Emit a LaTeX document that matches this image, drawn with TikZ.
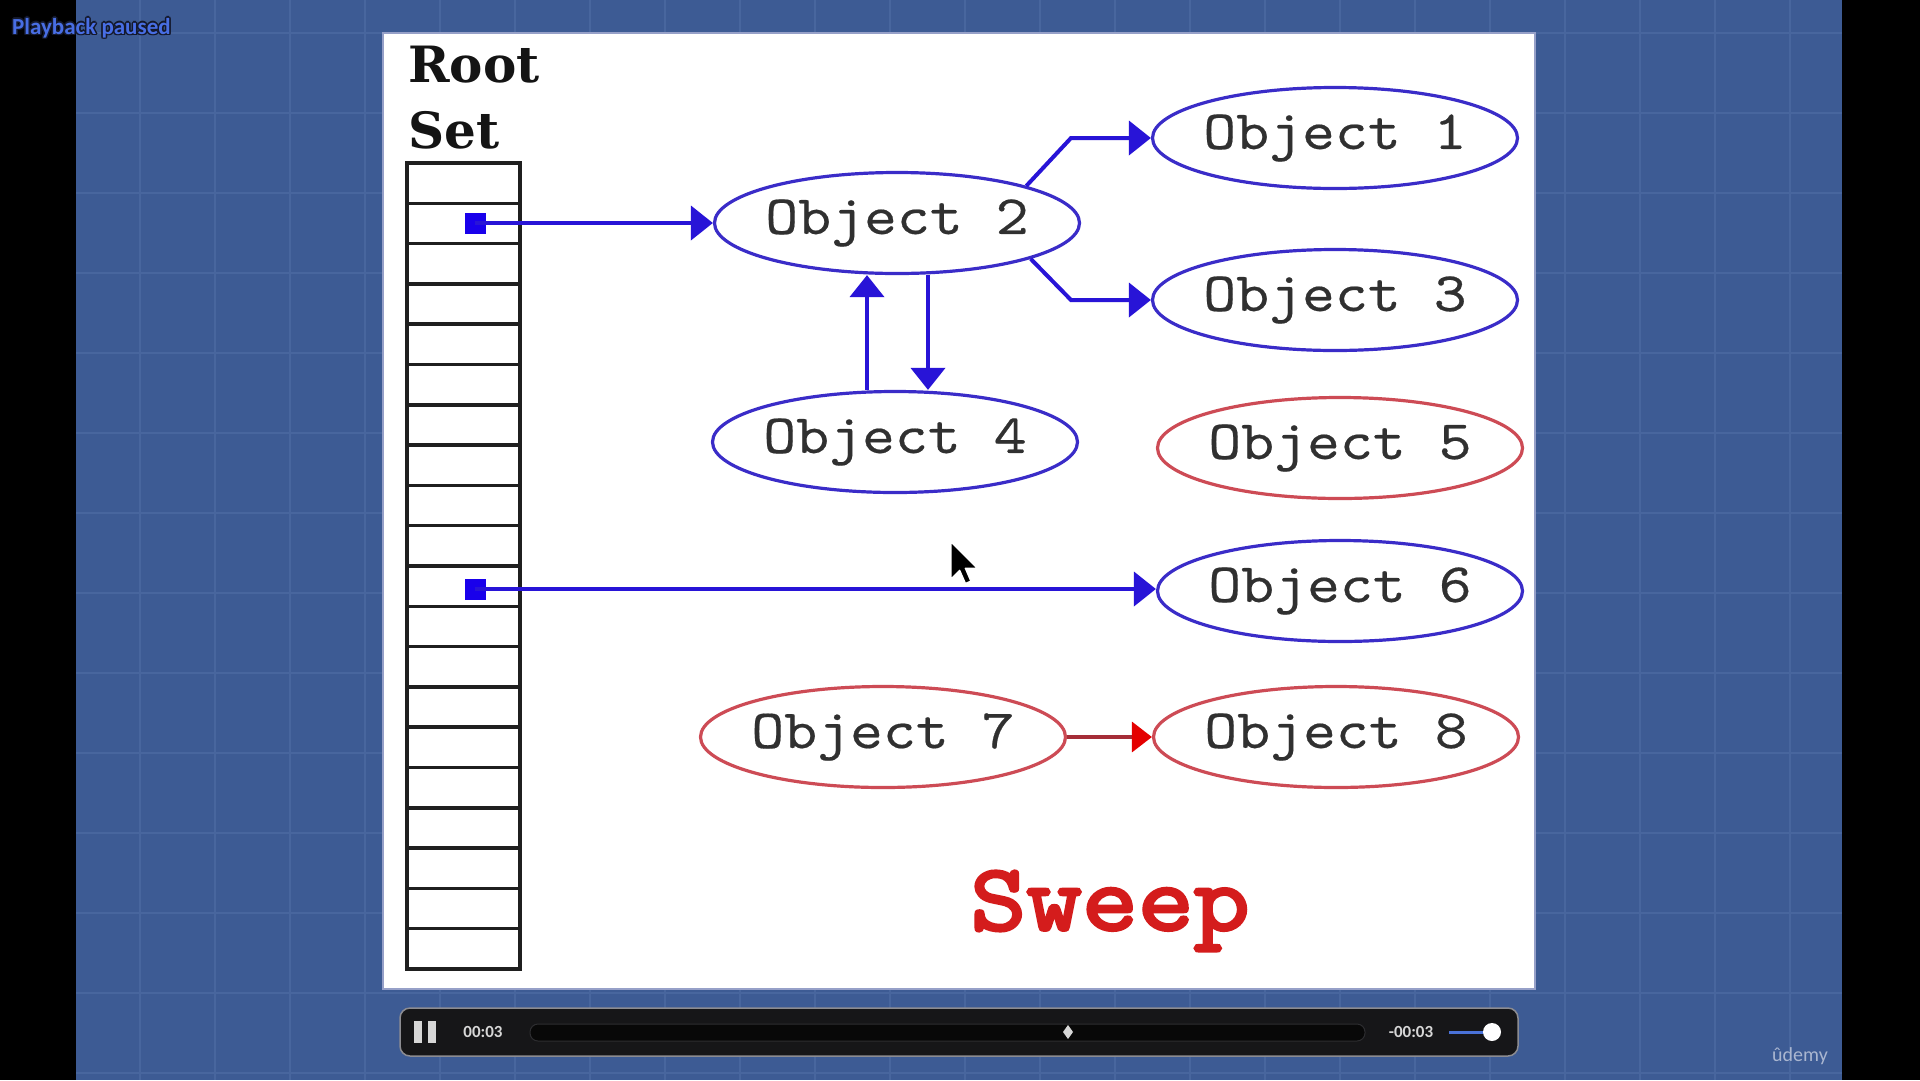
\documentclass[tikz,border=0pt]{standalone}
\usepackage{fontspec}
\setmainfont{Liberation Serif}
\newfontfamily\objfont{lmmono10-regular}[Extension=.otf, FakeStretch=1.13, FakeBold=0.35]
\newfontfamily\sweepfont{lmmono10-regular}[Extension=.otf, FakeStretch=1.12, FakeBold=3.2]
\newfontfamily\rootfont{DejaVu Serif}
\newfontfamily\uifont{Carlito}
\usetikzlibrary{shapes.geometric,arrows.meta}

\definecolor{bg}{RGB}{61,91,148}
\definecolor{gridcol}{RGB}{72,102,158}
\definecolor{objblue}{RGB}{58,44,200}
\definecolor{lineblue}{RGB}{40,20,215}
\definecolor{sqblue}{RGB}{25,0,235}
\definecolor{objred}{RGB}{205,75,85}
\definecolor{linered}{RGB}{165,45,55}
\definecolor{tipred}{RGB}{228,0,0}
\definecolor{sweepred}{RGB}{212,28,28}
\definecolor{labelgray}{RGB}{48,48,48}
\definecolor{panelborder}{RGB}{150,160,200}
\definecolor{barfill}{RGB}{22,22,24}
\definecolor{barborder}{RGB}{140,140,145}
\definecolor{trackfill}{RGB}{8,8,8}
\definecolor{trackborder}{RGB}{45,45,48}
\definecolor{uitext}{RGB}{215,215,215}
\definecolor{volblue}{RGB}{74,114,216}
\definecolor{pbblue}{RGB}{72,110,228}
\definecolor{pbdark}{RGB}{20,25,45}
\definecolor{udemycol}{RGB}{170,182,208}

\tikzset{
  gridline/.style={gridcol, line width=1.5pt},
  cell/.style={rectangle, draw=black!88, line width=3.5pt, minimum width=113pt, minimum height=40.3pt, inner sep=0pt},
  sq/.style={rectangle, fill=sqblue, minimum size=21pt, inner sep=0pt},
  obj/.style={ellipse, draw=objblue, line width=3.2pt, minimum width=365pt, minimum height=101pt, inner xsep=-6pt, inner ysep=0pt,
              text=labelgray, font=\objfont\fontsize{55.5}{60}\selectfont},
  objr/.style={obj, draw=objred},
  bline/.style={lineblue, line width=4pt, -{Triangle[length=22pt,width=34pt]}},
  rline/.style={linered, line width=3.5pt, -{Triangle[length=20pt,width=30pt,color=tipred]}},
  roottext/.style={font=\rootfont\bfseries\fontsize{50}{56}\selectfont, text=black!92, inner sep=0pt, anchor=base west},
  uilabel/.style={font=\uifont\bfseries\fontsize{17}{20}\selectfont, text=uitext, inner sep=0pt},
  pbtext/.style={font=\uifont\bfseries\fontsize{23}{26}\selectfont, inner sep=0pt, anchor=west},
}

\begin{document}
\begin{tikzpicture}[x=1pt,y=-1pt]
\useasboundingbox (0,0) rectangle (1920,1080);
% background
\fill[bg] (0,0) rectangle (1920,1080);
\foreach \x in {140,215,...,1840} \draw[gridline] (\x,0) -- (\x,1080);
\foreach \y in {33,113,...,1080} \draw[gridline] (76,\y) -- (1842,\y);
\fill[black] (0,0) rectangle (76,1080);
\fill[black] (1842,0) rectangle (1920,1080);

% playback paused
\foreach \dx/\dy [count=\i] in {-1.5/0,1.5/0,0/-1.5,0/1.5,-1.2/-1.2,1.2/1.2,-1.2/1.2,1.2/-1.2}
  \node[pbtext, text=pbdark] (pbs\i) at (12+\dx,28+\dy) {Playback paused};
\node[pbtext, text=pbblue] (pb) at (12,28) {Playback paused};

% white panel
\draw[fill=white, draw=panelborder, line width=1.5pt] (383,33) rectangle (1535,989);

% root set
\node[roottext] (root) at (408,82) {Root};
\node[roottext] (set) at (408,148) {Set};
\foreach \i in {1,...,20}
  \node[cell] (r\i) at (463.4,{163+40.3*(\i-0.5)}) {};
\node[sq] (sq1) at (475,223) {};
\node[sq] (sq2) at (475,589) {};

% objects
\node[obj]  (o1) at (1335,138) {Object 1};
\node[obj]  (o2) at (897,223)  {Object 2};
\node[obj]  (o3) at (1335,300) {Object 3};
\node[obj]  (o4) at (895,442)  {Object 4};
\node[objr] (o5) at (1340,448) {Object 5};
\node[obj]  (o6) at (1340,591) {Object 6};
\node[objr] (o7) at (883,737)  {Object 7};
\node[objr] (o8) at (1336,737) {Object 8};

% connectors
\coordinate (k1) at (1071,138);
\coordinate (k3) at (1071,300);
\draw[bline] (sq1.center) -- (o2.west);
\draw[bline] (sq2.center) -- (sq2.center -| o6.west);
\draw[bline, line join=miter] (o2.16) -- (k1) -- (o1.west);
\draw[bline, line join=miter] (o2.-15) -- (k3) -- (o3.west);
\draw[bline] ([xshift=-28pt]o4.north) -- ([xshift=-30pt]o2.south);
\draw[bline] ([xshift=31pt]o2.south) -- ([xshift=33pt]o4.north);
\draw[rline] (o7.east) -- (o8.west);

% sweep
\node[font=\sweepfont\fontsize{95}{100}\selectfont, text=sweepred, inner sep=0pt, anchor=base] (sweep) at (1110,930) {Sweep};

% mouse cursor
\filldraw[fill=black, draw=white, line width=1.2pt, line join=round, shift={(951,542)}, scale=2.3]
  (0,0) -- (0,16) -- (3.8,12.3) -- (6.3,18) -- (8.6,17) -- (6.2,11.4) -- (11.4,11.4) -- cycle;

% control bar
\draw[fill=barfill, draw=barborder, line width=1.5pt, rounded corners=10pt] (400,1008) rectangle (1518,1056);
\fill[uitext] (414,1021) rectangle (422,1043);
\fill[uitext] (428,1021) rectangle (436,1043);
\node[uilabel] (t1) at (483,1032) {00:03};
\draw[fill=trackfill, draw=trackborder, line width=1pt, rounded corners=8pt] (530,1024) rectangle (1365,1041);
\fill[uitext] (1068,1025) -- (1073,1032) -- (1068,1039) -- (1063,1032) -- cycle;
\node[uilabel] (t2) at (1411,1032) {-00:03};
\draw[volblue, line width=3pt] (1449,1032) -- (1488,1032);
\fill[white] (1492,1032) circle (9);

% udemy
\node[font=\uifont\fontsize{20}{22}\selectfont, text=udemycol, inner sep=0pt] (udemy) at (1800,1056) {ûdemy};
\end{tikzpicture}
\end{document}
